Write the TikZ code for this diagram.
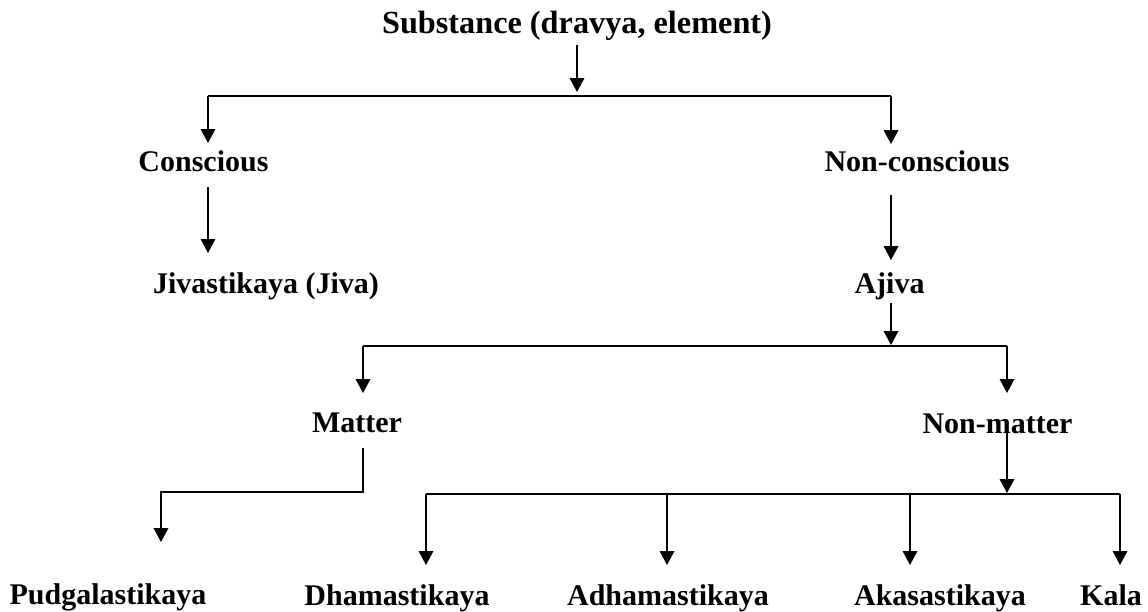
\documentclass[tikz,border=0pt]{standalone}
\usepackage{fontspec}
\setmainfont{Liberation Serif}
\usetikzlibrary{arrows.meta}
\tikzset{
  term/.style={anchor=base, inner sep=0pt, font=\fontsize{22.5}{27}\selectfont\bfseries},
  root/.style={term, font=\fontsize{24.2}{29}\selectfont\bfseries},
  link/.style={line width=1pt},
  bar/.style={line width=1.5pt},
  arr/.style={link, -{Triangle[width=11pt,length=10.5pt]}},
}
\begin{document}
\begin{tikzpicture}[x=0.75pt, y=-0.75pt]
  \useasboundingbox (0,0) rectangle (1148,611);
  % terms
  \node[root] (subst) at (577,33) {Substance (dravya, element)};
  \node[term] (consc) at (203.5,171) {Conscious};
  \node[term] (nonconsc) at (917,171) {Non-conscious};
  \node[term] (jiva) at (266,293) {Jivastikaya (Jiva)};
  \node[term] (ajiva) at (889.5,293) {Ajiva};
  \node[term] (matter) at (357,432) {Matter};
  \node[term] (nonmatter) at (997.5,433) {Non-matter};
  \node[term] (pudgala) at (108,604) {Pudgalastikaya};
  \node[term] (dharma) at (397,605) {Dhamastikaya};
  \node[term] (adharma) at (668,605) {Adhamastikaya};
  \node[term] (akasa) at (940,605) {Akasastikaya};
  \node[term] (kala) at (1111,605) {Kala};
  % junctions
  \coordinate (s0) at (577,45);
  \coordinate (s1) at (577,92);
  \coordinate (c0) at (208,96);
  \coordinate (n0) at (891,96);
  \coordinate (c1) at (208,143);
  \coordinate (n1) at (891,144);
  \coordinate (c2) at (208,187);
  \coordinate (c3) at (208,253);
  \coordinate (n2) at (891,195);
  \coordinate (n3) at (891,260);
  \coordinate (a0) at (891,303);
  \coordinate (a1) at (891,345);
  \coordinate (m0) at (363,346);
  \coordinate (v0) at (1007,346);
  \coordinate (m1) at (363,393);
  \coordinate (v1) at (1007,393);
  \coordinate (m2) at (363,448);
  \coordinate (m3) at (363,492);
  \coordinate (m4) at (161,492);
  \coordinate (m5) at (161,542);
  \coordinate (v2) at (1007,428);
  \coordinate (v3) at (1007,493);
  \coordinate (d0) at (426,494);
  \coordinate (e0) at (667,494);
  \coordinate (k0) at (910,494);
  \coordinate (l0) at (1120,494);
  % substance
  \draw[arr] (s0) -- (s1);
  \draw[bar] (c0) -- (n0);
  \draw[arr] (c0) -- (c1);
  \draw[arr] (n0) -- (n1);
  \draw[arr] (c2) -- (c3);
  \draw[arr] (n2) -- (n3);
  % ajiva
  \draw[arr] (a0) -- (a1);
  \draw[bar] (m0) -- (v0);
  \draw[arr] (m0) -- (m1);
  \draw[arr] (v0) -- (v1);
  \draw[arr] (m2) -- (m3) -- (m4) -- (m5);
  \draw[arr] (v2) -- (v3);
  \draw[bar] (d0) -- (l0);
  \draw[arr] (d0) -- (d0 |- 0,565);
  \draw[arr] (e0) -- (e0 |- 0,565);
  \draw[arr] (k0) -- (k0 |- 0,565);
  \draw[arr] (l0) -- (l0 |- 0,565);
\end{tikzpicture}
\end{document}
